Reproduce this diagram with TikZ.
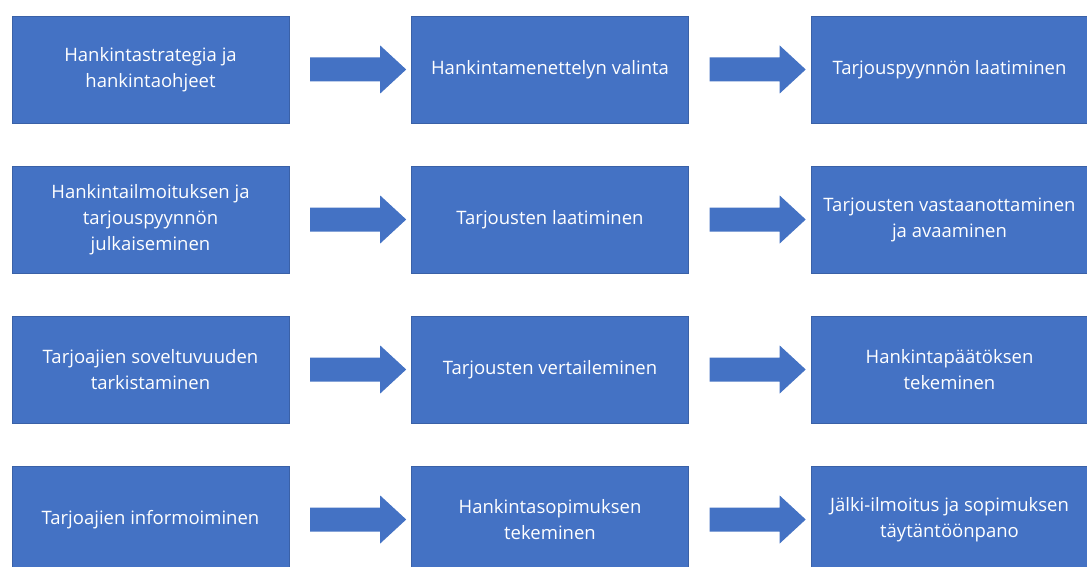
\documentclass[tikz,border=0pt]{standalone}
\usepackage{fontspec}
\setmainfont{Open Sans}
\definecolor{obox}{HTML}{4472C4}
\tikzset{
  stepbox/.style={fill=obox, draw=obox!85!black, line width=0.4pt, minimum width=277pt, minimum height=107pt, inner sep=0pt, text=white, align=center, font=\fontsize{18.5}{26}\selectfont},
  blockarrow/.style={fill=obox, draw=none},
}
\begin{document}
\begin{tikzpicture}[x=1pt,y=-1pt]
\useasboundingbox (0,0) rectangle (1087,567);
\fill[white] (0,0) rectangle (1087,567);
\begin{scope}
\clip (0,0) rectangle (1087,567);
\node[stepbox] (a1) at (150.5,69.5) {Hankintastrategia ja\\hankintaohjeet};
\node[stepbox] (a2) at (550,69.5) {Hankintamenettelyn valinta};
\node[stepbox] (a3) at (949.5,69.5) {Tarjouspyynnön laatiminen};
\node[stepbox] (b1) at (150.5,219.5) {Hankintailmoituksen ja\\tarjouspyynnön\\julkaiseminen};
\node[stepbox] (b2) at (550,219.5) {Tarjousten laatiminen};
\node[stepbox] (b3) at (949.5,219.5) {Tarjousten vastaanottaminen\\ja avaaminen};
\node[stepbox] (c1) at (150.5,369.5) {Tarjoajien soveltuvuuden\\tarkistaminen};
\node[stepbox] (c2) at (550,369.5) {Tarjousten vertaileminen};
\node[stepbox] (c3) at (949.5,369.5) {Hankintapäätöksen\\tekeminen};
\node[stepbox] (d1) at (150.5,519.5) {Tarjoajien informoiminen};
\node[stepbox] (d2) at (550,519.5) {Hankintasopimuksen\\tekeminen};
\node[stepbox] (d3) at (949.5,519.5) {Jälki-ilmoitus ja sopimuksen\\täytäntöönpano};
\end{scope}
\foreach \p in {a1,a2,b1,b2,c1,c2,d1,d2}{
  \fill[blockarrow] (\p.east) ++(21,-12) -- ++(70,0) -- ++(0,-12) -- ++(26,24) -- ++(-26,24) -- ++(0,-12) -- ++(-70,0) -- cycle;
}
\end{tikzpicture}
\end{document}
